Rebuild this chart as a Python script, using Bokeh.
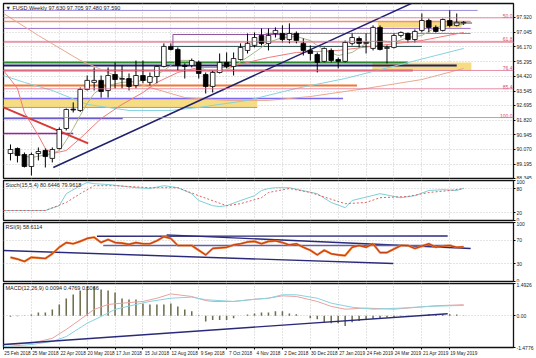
from bokeh.plotting import figure
from bokeh.layouts import column
from bokeh.models import Range1d, FixedTicker, Label, ColumnDataSource, PrintfTickFormatter, Span
from bokeh.embed import file_html
from bokeh.resources import INLINE
from bokeh.core.properties import value

FONT = "Liberation Sans"
GRID = "#c8c8c8"

# ---------------- data ----------------
title_text = "\u25bc FUSD,Weekly  97.630 97.705 97.480 97.590"
stoch_text = "Stoch(15,5,4) 80.6446 79.9618"
rsi_text = "RSI(9) 58.6114"
macd_text = "MACD(12,26,9) 0.0094 0.4769 0.5066"

weeks = list(range(66))
opens = [89.83, 90.13, 89.77, 89.06, 89.83, 90.01, 89.54, 90.13, 91.32, 92.47,
         92.39, 93.64, 94.06, 94.18, 93.58, 94.53, 94.25, 94.29, 93.88, 94.47,
         94.06, 94.41, 95.01, 96.20, 96.02, 95.07, 95.07, 95.25, 94.53, 93.82,
         94.65, 95.25, 95.01, 95.42, 95.96, 96.26, 96.85, 96.38, 96.97, 96.97,
         96.61, 96.97, 96.38, 95.96, 95.72, 95.31, 95.96, 95.42, 95.31, 96.38,
         96.67, 96.38, 96.08, 97.33, 96.08, 96.14, 96.85, 96.97, 96.61, 97.15,
         97.74, 97.33, 97.15, 97.74, 97.45, 97.63]
highs = [90.37, 90.19, 89.89, 89.89, 90.19, 90.13, 90.19, 91.38, 92.51, 92.87,
         93.76, 94.47, 94.95, 94.47, 94.95, 95.25, 95.07, 94.59, 95.36, 95.36,
         94.65, 95.07, 96.38, 96.38, 96.14, 95.19, 95.48, 95.36, 94.65, 94.77,
         95.78, 95.84, 95.84, 96.38, 96.97, 97.03, 97.27, 97.27, 97.33, 97.45,
         97.57, 97.09, 96.67, 96.26, 95.84, 96.14, 96.08, 95.54, 96.55, 96.97,
         96.79, 96.97, 97.45, 97.45, 96.26, 96.97, 97.09, 97.03, 97.21, 98.16,
         97.86, 97.45, 97.86, 98.34, 98.16, 97.705]
lows = [89.42, 89.30, 89.00, 88.52, 89.42, 89.00, 89.30, 90.07, 91.20, 92.27,
        92.30, 93.58, 93.58, 93.16, 93.16, 93.70, 93.70, 93.58, 93.70, 94.00,
        93.88, 94.00, 94.95, 95.96, 94.77, 94.29, 94.95, 94.29, 93.40, 93.46,
        94.59, 94.89, 94.47, 95.36, 95.78, 96.14, 96.26, 95.96, 96.73, 96.44,
        96.38, 96.38, 95.66, 95.36, 94.65, 95.25, 95.25, 94.89, 95.25, 96.26,
        96.14, 95.78, 95.96, 95.96, 95.19, 96.08, 96.73, 96.44, 96.44, 97.03,
        97.03, 97.03, 97.09, 97.33, 97.39, 97.48]
closes = [90.07, 89.71, 89.06, 89.77, 89.95, 89.65, 90.07, 91.26, 92.45, 92.42,
          93.64, 94.18, 94.18, 93.52, 94.47, 94.23, 94.29, 93.82, 94.47, 94.18,
          94.41, 95.01, 96.20, 96.02, 95.07, 95.01, 95.36, 94.59, 93.82, 94.65,
          95.25, 95.01, 95.48, 96.14, 96.38, 96.73, 96.38, 96.85, 97.15, 96.61,
          96.97, 96.55, 95.96, 95.78, 95.25, 96.08, 95.36, 95.31, 96.44, 96.73,
          96.38, 96.44, 97.33, 96.02, 96.14, 96.85, 97.03, 96.61, 97.09, 97.74,
          97.33, 97.09, 97.80, 97.45, 97.63, 97.59]
last_price = 97.59

date_ticks = [-1, 3, 7, 11, 15, 19, 23, 27, 31, 35, 39, 43, 47, 51, 55, 59, 63]
date_labels = ["25 Feb 2018", "25 Mar 2018", "22 Apr 2018", "20 May 2018", "17 Jun 2018",
               "15 Jul 2018", "12 Aug 2018", "9 Sep 2018", "7 Oct 2018", "4 Nov 2018",
               "2 Dec 2018", "30 Dec 2018", "27 Jan 2019", "24 Feb 2019", "24 Mar 2019",
               "21 Apr 2019", "19 May 2019"]

price_ticks = [88.345, 89.195, 90.070, 90.945, 91.820, 92.695, 93.545, 94.420,
               95.295, 96.170, 97.045, 97.920]

# moving averages (week index, price)
slow_idx = [-1, 4, 10, 16, 20, 25, 31, 37, 43, 51, 59, 65]
slow_val = [98.16, 96.85, 95.37, 94.29, 93.76, 93.16, 92.99, 92.99, 93.22, 93.70, 94.23, 94.89]
cyan_idx = [-1, 2, 6, 11, 17, 23, 27, 34, 41, 48, 56, 61, 65]
cyan_val = [94.47, 94.06, 93.58, 92.75, 92.39, 92.39, 92.57, 92.99, 93.70, 94.29, 95.13, 95.66, 96.08]
mid_idx = [-1, 1, 2, 4, 5, 6, 8, 10, 13, 16, 19, 21, 24, 27, 31, 37, 41, 47, 53, 59, 65]
mid_val = [94.77, 93.70, 92.27, 90.90, 90.13, 89.83, 90.01, 90.73, 91.91, 92.75, 93.46,
           94.06, 94.65, 94.95, 94.95, 95.54, 95.84, 95.96, 96.26, 96.55, 97.03]
fast_idx = [0, 3, 6, 7, 8, 9, 10, 11, 12, 13, 14, 16, 18, 20, 22, 24, 26, 28, 30, 32,
            35, 37, 39, 41, 43, 45, 47, 49, 51, 53, 55, 57, 59, 61, 63, 65]
fast_val = [89.89, 89.59, 89.83, 90.01, 90.61, 91.32, 92.09, 92.81, 93.40, 93.70, 93.88,
            94.06, 94.12, 94.23, 94.77, 95.37, 95.37, 94.77, 94.65, 95.01, 95.84, 96.44,
            96.73, 96.79, 96.55, 95.96, 95.66, 95.84, 96.38, 96.55, 96.44, 96.73, 96.85,
            97.33, 97.45, 97.51]

# horizontal support / resistance lines (price, from week, to week)
hl_price = [98.34, 97.68, 97.27, 96.97, 96.91, 96.44, 96.20, 95.25, 95.07, 94.77,
            93.88, 93.10, 92.57, 91.91, 91.02]
hl_from = [-1, -1, -1, 36.6, 23.3, -1, 23.3, -1, -1, -1, -1, -1, -1, -1, -1]
hl_to = [67, 66, 66, 66, 41.4, 73, 59, 57, 64, 57.7, 49.7, 47.7, 35.4, 16.1, 9]
bracket_week = [23.3]
bracket_lo = [96.20]
bracket_hi = [96.91]

fib_levels = [97.90, 96.50, 94.77, 93.68, 91.97]
fib_labels = ["50.0", "61.8", "76.4", "85.4", "100.0"]

# shaded zones (from week, to week, low, high)
zone_from = [-1, 51.9, 52.7]
zone_to = [35.4, 66.1, 64.7]
zone_lo = [92.57, 94.77, 97.33]
zone_hi = [93.10, 95.25, 97.68]

trend_up_x = [6.14, 58.0]
trend_up_y = [89.0, 98.85]
trend_dn_x = [-1, 11.14]
trend_dn_y = [92.57, 90.43]

# stochastic
stoch_k_idx = [-1, 5, 7, 8, 10, 11, 12, 14, 18, 20, 22, 24, 26, 27, 29, 30, 31, 33, 35, 36,
               37, 38, 40, 44, 46, 48, 49, 53, 56, 58, 60, 62, 64, 65]
stoch_k = [25, 25, 37, 67, 87, 95, 92, 90, 82, 80, 87, 82, 67, 50, 37, 35, 37, 50, 62, 75,
           80, 82, 82, 67, 45, 32, 50, 67, 57, 62, 75, 77, 75, 80.64]
stoch_d_idx = [-1, 5, 8, 10, 12, 15, 20, 24, 27, 31, 33, 36, 37, 40, 43, 48, 51, 53, 57, 60, 63, 65]
stoch_d = [25, 25, 45, 67, 87, 87, 82, 82, 62, 37, 42, 57, 70, 80, 70, 42, 45, 57, 60, 70, 75, 79.96]

# RSI
rsi = [41, 38, 34, 41, 40, 39, 47, 58, 66, 64, 68, 73, 75, 66, 71, 66, 65, 63, 66, 64,
       64, 69, 76, 73, 61, 61, 61, 53, 45, 56, 57, 58, 62, 64, 67, 68, 64, 68, 69, 66,
       62, 64, 58, 53, 45, 53, 47, 45, 44, 58, 61, 58, 64, 49, 49, 55, 61, 61, 56, 60,
       64, 58, 60, 61, 58, 58.61]
rsi_tl_x0 = [-1, 12.4, 22.4, 13.3]
rsi_tl_x1 = [54.9, 62.7, 66.0, 63.3]
rsi_tl_y0 = [52.5, 76.8, 79.0, 61.0]
rsi_tl_y1 = [30.5, 77.0, 56.0, 61.0]

# MACD
macd_hist = [-0.05, -0.03, -0.01, 0.05, 0.15, 0.15, 0.29, 0.52, 0.80, 0.98,
             1.17, 1.35, 1.35, 1.21, 1.17, 1.07, 0.80, 0.75, 0.75, 0.56,
             0.52, 0.52, 0.52, 0.56, 0.43, 0.29, 0.20, 0.02, -0.27, -0.20,
             -0.20, -0.20, -0.12, 0.0, 0.05, 0.10, 0.15, 0.15, 0.20, 0.20,
             0.10, 0.06, 0.0, -0.12, -0.17, -0.30, -0.35, -0.35, -0.48, -0.30,
             -0.25, -0.20, -0.16, -0.12, -0.08, -0.08, -0.04, -0.04, 0.0, 0.02,
             0.06, 0.06, 0.06, 0.06, 0.05, 0.0094]
macd_a_idx = [-1, 3, 6, 8, 10, 12, 14, 16, 19, 21, 23, 26, 28, 29, 32, 35, 37, 39, 41, 44,
              46, 48, 51, 55, 58, 61, 65]
macd_a = [-1.35, -1.28, -1.05, -0.64, -0.18, 0.29, 0.52, 0.58, 0.66, 0.81, 1.01, 0.89, 0.70,
          0.66, 0.66, 0.76, 0.81, 0.92, 0.89, 0.66, 0.43, 0.30, 0.35, 0.30, 0.38, 0.46, 0.5066]
macd_b_idx = [-1, 3, 6, 8, 11, 13, 15, 18, 20, 23, 26, 28, 32, 35, 37, 39, 41, 44, 46, 49,
              52, 56, 60, 65]
macd_b = [-1.44, -1.34, -1.20, -0.97, -0.35, -0.04, 0.29, 0.52, 0.66, 0.81, 0.86, 0.74, 0.66,
          0.76, 0.81, 0.97, 0.97, 0.81, 0.58, 0.39, 0.30, 0.35, 0.43, 0.4769]
macd_tl_x = [-1, 62.7]
macd_tl_y = [-1.34, 0.09]
macd_ticks = [-1.4776, 0.0, 1.4926]
macd_tick_labels = ["-1.4776", "0.00", "1.4926"]

# ---------------- styles ----------------
HL_COLORS = ["#9c8ce0", "#f09070", "#a070c8", "#b070b0", "#9050a0", "#e8a0b0", "#2f4f4f",
             "#2e8b2e", "#202070", "#e05a4a", "#f07830", "#7b68ee", "#8f9fc0", "#6a5acd", "#a020a0"]
HL_WIDTHS = [1, 1.5, 1, 1, 1, 1, 1, 2, 2, 2, 2, 1.5, 1, 1.5, 1.5]

xr = Range1d(-1, -1 + 512 / 7)


def pane(h, top, bottom, y0, y1, yticks, with_x=False):
    p = figure(width=536, height=h, x_range=xr, y_range=Range1d(y0, y1),
               output_backend="svg", toolbar_location=None,
               y_axis_location="right", x_axis_location="below" if with_x else None,
               min_border_left=3, min_border_right=21, min_border_top=top,
               min_border_bottom=bottom)
    p.outline_line_color = "#111111"
    p.outline_line_width = 1.3
    p.background_fill_color = "white"
    p.border_fill_color = "white"
    ax = p.yaxis[0]
    ax.ticker = FixedTicker(ticks=yticks, minor_ticks=[])
    ax.major_label_text_font_size = "5px"
    ax.major_label_text_font = FONT
    ax.major_label_text_color = "#222222"
    ax.major_tick_out = 2
    ax.major_tick_in = 0
    ax.major_tick_line_color = "black"
    ax.minor_tick_out = 0
    ax.minor_tick_in = 0
    ax.major_label_standoff = 1
    ax.axis_line_color = None
    for g in p.xgrid:
        g.ticker = FixedTicker(ticks=date_ticks)
        g.grid_line_color = GRID
        g.grid_line_dash = "1 2"
    for g in p.ygrid:
        g.grid_line_color = GRID
        g.grid_line_dash = "1 2"
    return p


def header(p, text, h_frame):
    p.add_layout(Label(x=2, y=h_frame - 7, x_units="screen", y_units="screen", text=text,
                       text_font_size="5.5px", text_font=FONT, text_color="#222222",
                       text_baseline="bottom"))


# ---------------- main price pane ----------------
main = pane(179, 3, 1, 88.345, 98.752, price_ticks)
main.yaxis[0].formatter = PrintfTickFormatter(format="%.3f")
for g in main.ygrid:
    g.ticker = FixedTicker(ticks=price_ticks)

main.quad(left=zone_from, right=zone_to, bottom=zone_lo, top=zone_hi,
          fill_color="#f5d874", fill_alpha=0.9, line_color=None)

for lvl in fib_levels:
    main.add_layout(Span(location=lvl, dimension="width", line_color="#e07090", line_width=0.8))

hl_src = ColumnDataSource(dict(x0=hl_from, x1=hl_to, y=hl_price, c=HL_COLORS, w=HL_WIDTHS))
main.segment(x0="x0", y0="y", x1="x1", y1="y", line_color="c", line_width="w", source=hl_src)
main.segment(x0=bracket_week, y0=bracket_lo, x1=bracket_week, y1=bracket_hi,
             line_color="#9050a0", line_width=1)

main.line(slow_idx, slow_val, line_color="#e9a88e", line_width=1)
main.line(cyan_idx, cyan_val, line_color="#86d3df", line_width=1)
main.line(mid_idx, mid_val, line_color="#ee7b7b", line_width=1)
main.line(fast_idx, fast_val, line_color="#a8b88a", line_width=1)

main.line(trend_up_x, trend_up_y, line_color="#20206e", line_width=1.5)
main.line(trend_dn_x, trend_dn_y, line_color="#d83a3a", line_width=2)

body_top = [max(o, c) for o, c in zip(opens, closes)]
body_bot = [min(o, c) for o, c in zip(opens, closes)]
body_fill = ["white" if c >= o else "black" for o, c in zip(opens, closes)]
csrc = ColumnDataSource(dict(x=weeks, h=highs, l=lows, t=body_top, b=body_bot, f=body_fill))
main.segment(x0="x", y0="l", x1="x", y1="h", source=csrc, line_color="black", line_width=1)
main.vbar(x="x", width=0.66, top="t", bottom="b", fill_color="f", line_color="black",
          line_width=0.8, source=csrc)

main.segment(x0=[63.3], y0=[last_price], x1=[66.2], y1=[last_price], line_color="#555555",
             line_width=1)

main.text(x=[xr.end - 0.15] * len(fib_levels), y=fib_levels, text=fib_labels,
          text_align="right", text_baseline="bottom", text_font_size="5px",
          text_font=value(FONT), text_color="#d05070")

main.add_layout(Label(x=xr.end, y=last_price, x_units="data", y_units="data", text="97.590",
                      x_offset=1, text_font_size="5px", text_font=FONT, text_color="white",
                      background_fill_color="black", text_baseline="middle"))
header(main, title_text, 175)

# ---------------- stochastic ----------------
stoch = pane(42, 1, 1, 0, 100, [0, 20, 80, 100])
for g in stoch.ygrid:
    g.ticker = FixedTicker(ticks=[20, 80])
stoch.line(stoch_k_idx, stoch_k, line_color="#7ecfd6", line_width=1)
stoch.line(stoch_d_idx, stoch_d, line_color="#e06060", line_width=1, line_dash="2 2")
header(stoch, stoch_text, 40)

# ---------------- RSI ----------------
rsip = pane(61, 1, 1, 0, 100, [0, 30, 70, 100])
for g in rsip.ygrid:
    g.ticker = FixedTicker(ticks=[30, 70])
rsip.segment(x0=rsi_tl_x0, y0=rsi_tl_y0, x1=rsi_tl_x1, y1=rsi_tl_y1,
             line_color=["#2a2a7a", "#2a2a7a", "#2a2a7a", "#6060a8"], line_width=1.4)
rsip.line(weeks, rsi, line_color="#f07828", line_width=2.2)
rsip.line(weeks, rsi, line_color="#b02010", line_width=0.7)
header(rsip, rsi_text, 59)

# ---------------- MACD ----------------
macd = pane(76, 1, 11, -1.4776, 1.4926, macd_ticks, with_x=True)
macd.yaxis[0].major_label_overrides = dict(zip(macd_ticks, macd_tick_labels))
for g in macd.ygrid:
    g.ticker = FixedTicker(ticks=[0.0])
macd.vbar(x=weeks, width=0.22, top=macd_hist, bottom=0, fill_color="#6e6e4e",
          line_color=None)
macd.line(macd_a_idx, macd_a, line_color="#eaa0a0", line_width=1)
macd.line(macd_b_idx, macd_b, line_color="#86d3df", line_width=1)
macd.line(macd_tl_x, macd_tl_y, line_color="#2a2a7a", line_width=1.4)
header(macd, macd_text, 64)

label_pos = [t + 2 for t in date_ticks]
xa = macd.xaxis[0]
xa.ticker = FixedTicker(ticks=label_pos, minor_ticks=date_ticks)
xa.major_label_overrides = dict(zip(label_pos, date_labels))
xa.major_label_text_font_size = "4.7px"
xa.major_label_text_font = FONT
xa.major_label_text_color = "#222222"
xa.major_tick_out = 0
xa.major_tick_in = 0
xa.minor_tick_out = 2
xa.minor_tick_in = 0
xa.minor_tick_line_color = "black"
xa.major_label_standoff = 1
xa.axis_line_color = None

layout = column(main, stoch, rsip, macd, spacing=0)
open("out.html", "w").write(file_html(layout, INLINE))
